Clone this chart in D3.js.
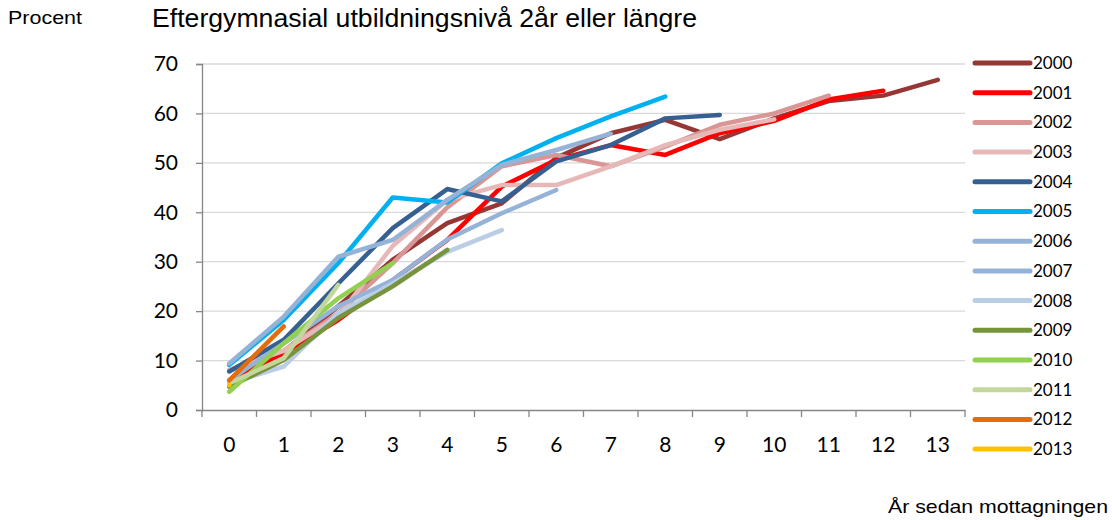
<!DOCTYPE html>
<meta charset="utf-8">
<title>Eftergymnasial utbildningsnivå</title>
<script src="https://d3js.org/d3.v7.min.js"></script>
<style>
  body { margin: 0; background: #fff; }
  text { fill: #000; }
</style>
<body>
</body>
<script>
  const width = 1112, height = 520;

  // years since reception
  const years = ["0","1","2","3","4","5","6","7","8","9","10","11","12","13"];
  const yTicks = [0,10,20,30,40,50,60,70];
  const cohorts = ["2000","2001","2002","2003","2004","2005","2006","2007","2008","2009","2010","2011","2012","2013"];
  const colors = ["#953735","#FF0000","#D99694","#E6B9B8","#376092","#00B0F0","#95B3D7","#95B3D7","#B9CDE5","#77933C","#92D050","#C3D69B","#E46C0A","#FFC000"];

  const v2000 = [8, 11.8, 21, 30.4, 37.8, 41.8, 51, 56, 58.7, 54.8, 59, 62.5, 63.6, 66.8];
  const v2001 = [6, 11.5, 18.2, 26.3, 34.4, 45.2, 50.6, 53.6, 51.6, 56, 58.5, 62.8, 64.6];
  const v2002 = [8, 12, 19.6, 29.7, 41, 49.3, 51.6, 49.3, 53.3, 57.7, 60, 63.6];
  const v2003 = [8, 12, 19, 33.2, 42.5, 45.5, 45.5, 49.3, 53.6, 56.7, 58.8];
  const v2004 = [7.8, 14.2, 25.6, 36.8, 44.7, 42.2, 50.3, 53.6, 59, 59.7];
  const v2005 = [9.1, 18.2, 29.7, 43, 42, 49.9, 55, 59.4, 63.4];
  const v2006 = [9.4, 18.9, 31, 34.4, 42.5, 49.6, 52.6, 55.9];
  const v2007 = [6, 13.5, 21, 26.3, 34.5, 39.8, 44.5];
  const v2008 = [5.4, 8.8, 19.6, 25.6, 32, 36.4];
  const v2009 = [4.7, 10.1, 18.6, 25, 32.4];
  const v2010 = [3.7, 13.5, 22.6, 29.7];
  const v2011 = [5.4, 10.5, 25.3];
  const v2012 = [6, 16.9];
  const v2013 = [5];
  const series = [v2000,v2001,v2002,v2003,v2004,v2005,v2006,v2007,v2008,v2009,v2010,v2011,v2012,v2013];

  const svg = d3.select("body").append("svg").attr("width", width).attr("height", height);

  const x = d3.scaleBand().domain(years).range([202, 965]);
  const y = d3.scaleLinear().domain([0, 70]).range([410, 64]);

  const tickFont = "Lato, 'Open Sans', sans-serif";
  const labelFont = "'Liberation Sans Narrow', 'Liberation Sans', Arial, sans-serif";

  // gridlines
  svg.append("g")
    .selectAll("line")
    .data(yTicks.slice(1))
    .join("line")
      .attr("x1", 202).attr("x2", 965)
      .attr("y1", d => y(d)).attr("y2", d => y(d))
      .attr("stroke", "#D9D9D9").attr("stroke-width", 1.3);

  // y axis
  const yAxis = svg.append("g")
    .attr("transform", "translate(202,0)")
    .call(d3.axisLeft(y).tickValues(yTicks).tickSize(6).tickPadding(18));
  yAxis.select(".domain").attr("stroke", "#868686").attr("stroke-width", 1.3);
  yAxis.selectAll(".tick line").attr("stroke", "#868686").attr("stroke-width", 1.3);
  yAxis.selectAll("text").attr("font-family", tickFont).attr("font-size", 21).attr("fill", "#000");

  // x axis with ticks between categories
  const xAxis = svg.append("g")
    .attr("transform", "translate(0,410)")
    .call(d3.axisBottom(x).tickSize(0).tickPadding(27));
  xAxis.select(".domain").attr("stroke", "#868686").attr("stroke-width", 1.3);
  xAxis.selectAll("text").attr("font-family", tickFont).attr("font-size", 21).attr("fill", "#000");
  xAxis.append("g")
    .selectAll("line")
    .data(years.concat(["end"]))
    .join("line")
      .attr("x1", (d, i) => x.range()[0] + i * x.bandwidth())
      .attr("x2", (d, i) => x.range()[0] + i * x.bandwidth())
      .attr("y1", 0).attr("y2", 7)
      .attr("stroke", "#868686").attr("stroke-width", 1.3);

  // lines
  const line = d3.line()
    .x((d, i) => x(years[i]) + x.bandwidth() / 2)
    .y(d => y(d));

  svg.append("g")
    .selectAll("path")
    .data(series)
    .join("path")
      .attr("d", line)
      .attr("fill", "none")
      .attr("stroke", (d, i) => colors[i])
      .attr("stroke-width", 4.5)
      .attr("stroke-linejoin", "round")
      .attr("stroke-linecap", "round");

  // legend
  const legend = svg.append("g")
    .selectAll("g")
    .data(cohorts)
    .join("g")
      .attr("transform", (d, i) => `translate(975,${63 + i * 29.7})`);
  legend.append("line")
    .attr("x1", 0).attr("x2", 55)
    .attr("stroke", (d, i) => colors[i])
    .attr("stroke-width", 5)
    .attr("stroke-linecap", "round");
  legend.append("text")
    .attr("x", 58).attr("dy", "0.35em")
    .attr("font-family", tickFont)
    .attr("font-size", 17)
    .text(d => d);

  // titles
  svg.append("text")
    .attr("x", 8).attr("y", 24)
    .attr("font-family", labelFont)
    .attr("font-size", 18.5)
    .attr("textLength", 74).attr("lengthAdjust", "spacingAndGlyphs")
    .text("Procent");
  svg.append("text")
    .attr("x", 152).attr("y", 27)
    .attr("font-family", labelFont)
    .attr("font-size", 25)
    .attr("textLength", 545).attr("lengthAdjust", "spacingAndGlyphs")
    .text("Eftergymnasial utbildningsnivå 2år eller längre");
  svg.append("text")
    .attr("x", 888).attr("y", 513)
    .attr("font-family", labelFont)
    .attr("font-size", 19)
    .attr("textLength", 220).attr("lengthAdjust", "spacingAndGlyphs")
    .text("År sedan mottagningen");
</script>
